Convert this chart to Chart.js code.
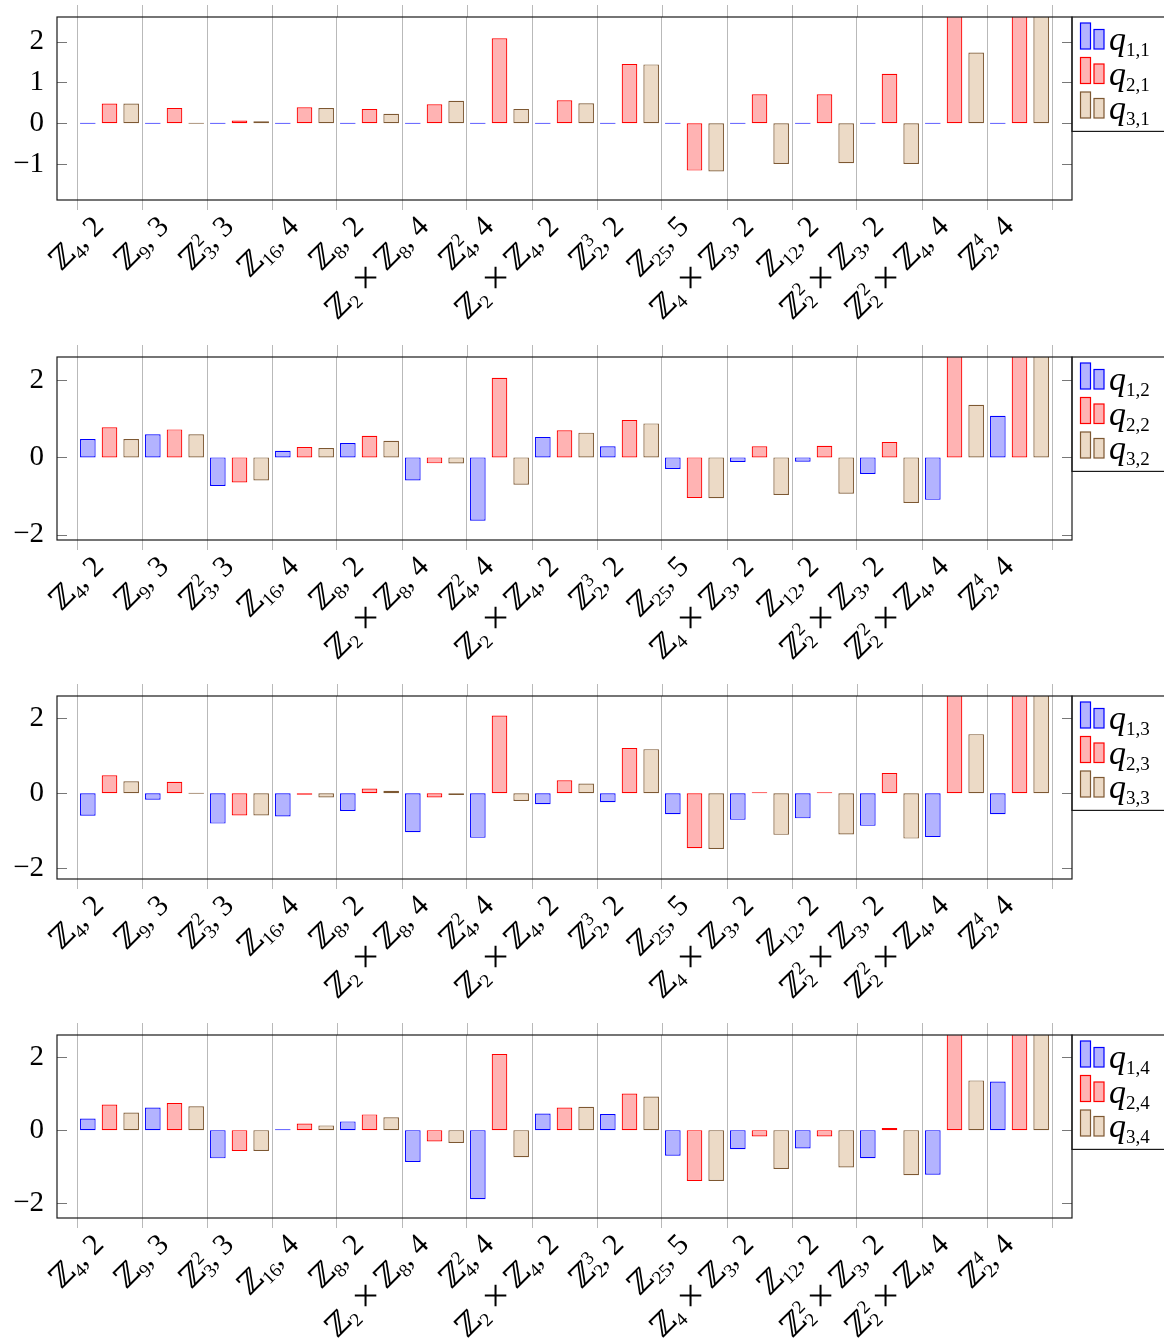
<!DOCTYPE html>
<html>
<head>
<meta charset="utf-8">
<script src="https://cdn.jsdelivr.net/npm/chart.js@4"></script>
<style>
  body { margin: 0; background: #fff; }
  #wrap { position: relative; width: 1164px; height: 1338px; }
  .panel { position: absolute; left: 0; width: 1164px; height: 340px; }
</style>
</head>
<body>
<div id="wrap"></div>
<script>
// Group labels (tick labels), _{..} = subscript, ^{..} = superscript
const groups = [
  'ℤ_{4}, 2', 'ℤ_{9}, 3', 'ℤ_{3}^{2}, 3', 'ℤ_{16}, 4', 'ℤ_{8}, 2',
  'ℤ_{2} × ℤ_{8}, 4', 'ℤ_{4}^{2}, 4', 'ℤ_{2} × ℤ_{4}, 2', 'ℤ_{2}^{3}, 2', 'ℤ_{25}, 5',
  'ℤ_{4} × ℤ_{3}, 2', 'ℤ_{12}, 2', 'ℤ_{2}^{2} × ℤ_{3}, 2', 'ℤ_{2}^{2} × ℤ_{4}, 4', 'ℤ_{2}^{4}, 4'
];
const xCenters = groups.map((g, i) => i + 0.5);
const xTicks = [0, 1, 2, 3, 4, 5, 6, 7, 8, 9, 10, 11, 12, 13, 14, 15];

// panel 1
const q1_1 = [0, 0, 0, 0, 0, 0, 0, 0, 0, 0, 0, 0, 0, 0, 0];
const q2_1 = [0.48, 0.375, 0.065, 0.39, 0.35, 0.465, 2.08, 0.56, 1.45, -1.16, 0.71, 0.71, 1.21, 3.3, 3.5];
const q3_1 = [0.48, 0, 0.05, 0.37, 0.23, 0.55, 0.35, 0.49, 1.44, -1.18, -1.0, -0.98, -1.0, 1.73, 3.2];
// panel 2
const q1_2 = [0.475, 0.6, -0.74, 0.17, 0.37, -0.6, -1.64, 0.53, 0.29, -0.3, -0.12, -0.11, -0.43, -1.1, 1.08];
const q2_2 = [0.78, 0.725, -0.65, 0.27, 0.56, -0.155, 2.06, 0.7, 0.97, -1.05, 0.29, 0.3, 0.4, 3.3, 3.5];
const q3_2 = [0.475, 0.6, -0.6, 0.24, 0.43, -0.16, -0.71, 0.64, 0.88, -1.06, -0.975, -0.94, -1.18, 1.36, 3.2];
// panel 3
const q1_3 = [-0.6, -0.17, -0.81, -0.62, -0.47, -1.04, -1.19, -0.29, -0.24, -0.56, -0.71, -0.67, -0.87, -1.17, -0.56];
const q2_3 = [0.48, 0.31, -0.59, -0.04, 0.13, -0.11, 2.08, 0.35, 1.21, -1.47, 0.01, 0.01, 0.54, 3.3, 3.5];
const q3_3 = [0.32, 0, -0.59, -0.11, 0.07, -0.045, -0.205, 0.26, 1.18, -1.49, -1.11, -1.1, -1.21, 1.58, 3.2];
// panel 4
const q1_4 = [0.32, 0.62, -0.77, 0.01, 0.24, -0.87, -1.885, 0.455, 0.44, -0.7, -0.52, -0.5, -0.765, -1.22, 1.33];
const q2_4 = [0.7, 0.74, -0.57, 0.18, 0.43, -0.31, 2.08, 0.62, 1.0, -1.39, -0.17, -0.17, 0.06, 3.3, 3.5];
const q3_4 = [0.48, 0.65, -0.57, 0.13, 0.35, -0.35, -0.74, 0.64, 0.92, -1.39, -1.06, -1.02, -1.23, 1.36, 3.2];

const series = [[q1_1, q2_1, q3_1], [q1_2, q2_2, q3_2], [q1_3, q2_3, q3_3], [q1_4, q2_4, q3_4]];
const legendLabels = [
  ['q_{1,1}', 'q_{2,1}', 'q_{3,1}'],
  ['q_{1,2}', 'q_{2,2}', 'q_{3,2}'],
  ['q_{1,3}', 'q_{2,3}', 'q_{3,3}'],
  ['q_{1,4}', 'q_{2,4}', 'q_{3,4}']
];
const yMins = [-1.88, -2.14, -2.29, -2.4];
const yMax = 2.6;
const yTicks = [[-1, 0, 1, 2], [-2, 0, 2], [-2, 0, 2], [-2, 0, 2]];

const panelTops = [0, 340, 679, 1018];
const fills = ['rgb(179,179,255)', 'rgb(255,179,179)', 'rgb(236,218,198)'];
const strokes = ['rgb(0,0,255)', 'rgb(255,0,0)', 'rgb(125,88,50)'];
const gridColor = 'rgb(185,185,185)';
const SERIF = '"Liberation Serif", "DejaVu Serif", serif';

// split "ℤ_{2}^{3}, 2" into runs
function richParts(s) {
  const out = [];
  let i = 0, buf = '';
  while (i < s.length) {
    const c = s[i];
    if ((c === '_' || c === '^') && s[i + 1] === '{') {
      if (buf) { out.push({ t: buf, k: 'n' }); buf = ''; }
      const end = s.indexOf('}', i);
      out.push({ t: s.slice(i + 2, end), k: c === '_' ? 'b' : 'p' });
      i = end + 1;
    } else {
      buf += c;
      i++;
    }
  }
  if (buf) out.push({ t: buf, k: 'n' });
  return out;
}

// draw rich text with its baseline at (0,0); right aligned if o.right
function drawRich(ctx, s, o) {
  const parts = richParts(s);
  const main = (o.italic ? 'italic ' : '') + o.size + 'px ' + SERIF;
  const op = Math.round(o.size * 1.35) + 'px ' + SERIF;
  const small = o.sub + 'px ' + SERIF;
  const items = [];
  let w = 0;
  for (let i = 0; i < parts.length; i++) {
    const p = parts[i];
    if (p.k === 'n') {
      // the times sign is set larger, like the math operator in the original
      p.t.split(/(×)/).filter(t => t).forEach(t => {
        const f = t === '×' ? op : main;
        ctx.font = f;
        items.push({ t, f, x: w, dy: t === '×' ? 3 : 0 });
        w += ctx.measureText(t).width;
      });
    } else {
      ctx.font = small;
      let adv = ctx.measureText(p.t).width;
      items.push({ t: p.t, f: small, x: w, dy: p.k === 'b' ? o.subDy : -o.supDy });
      const q = parts[i + 1];
      if (p.k === 'b' && q && q.k === 'p') {
        items.push({ t: q.t, f: small, x: w, dy: -o.supDy });
        adv = Math.max(adv, ctx.measureText(q.t).width);
        i++;
      }
      w += adv;
    }
  }
  const x0 = o.right ? -w : 0;
  ctx.textAlign = 'left';
  ctx.textBaseline = 'alphabetic';
  items.forEach(it => {
    ctx.font = it.f;
    ctx.fillText(it.t, x0 + it.x, it.dy);
  });
}

const panelPlugin = {
  id: 'qpanel',
  afterDraw(chart, args, opts) {
    const k = opts.k;
    const { ctx, chartArea: ca, scales: { x, y } } = chart;
    ctx.save();
    const line = (x1, y1, x2, y2) => { ctx.beginPath(); ctx.moveTo(x1, y1); ctx.lineTo(x2, y2); ctx.stroke(); };

    // outside ticks on the top edge
    ctx.strokeStyle = gridColor;
    ctx.lineWidth = 1;
    xTicks.forEach(v => {
      const px = Math.round(x.getPixelForValue(v)) + 0.5;
      line(px, ca.top - 12, px, ca.top);
    });

    // inside ticks on both y edges
    ctx.strokeStyle = '#777';
    y.ticks.forEach(t => {
      const py = Math.round(y.getPixelForValue(t.value)) + 0.5;
      line(ca.left, py, ca.left + 10, py);
      line(ca.right - 10, py, ca.right, py);
    });

    // axis frame
    ctx.strokeStyle = '#1a1a1a';
    ctx.lineWidth = 1.2;
    ctx.strokeRect(ca.left, ca.top, ca.right - ca.left, ca.bottom - ca.top);

    // legend box
    ctx.strokeRect(ca.right, ca.top, 100, 114.4);
    legendLabels[k].forEach((lab, j) => {
      const bottom = ca.top + 32 + 34.5 * j;
      ctx.fillStyle = fills[j];
      ctx.strokeStyle = strokes[j];
      ctx.lineWidth = 1.2;
      ctx.fillRect(1080.5, bottom - 26, 10, 26);
      ctx.strokeRect(1080.5, bottom - 26, 10, 26);
      ctx.fillRect(1094, bottom - 19.5, 10, 19.5);
      ctx.strokeRect(1094, bottom - 19.5, 10, 19.5);
      ctx.save();
      ctx.translate(1109, bottom + 1);
      ctx.fillStyle = '#000';
      drawRich(ctx, lab, { size: 34, sub: 19, subDy: 6, supDy: 11, italic: true });
      ctx.restore();
    });

    // rotated group labels
    ctx.fillStyle = '#000';
    groups.forEach((g, i) => {
      const px = x.getPixelForValue(xTicks[i]);
      ctx.save();
      ctx.translate(px + 28, ca.bottom + 28);
      ctx.rotate(-Math.PI / 4);
      drawRich(ctx, g, { size: 30, sub: 19, subDy: 6, supDy: 12, right: true });
      ctx.restore();
    });
    ctx.restore();
  }
};

const wrap = document.getElementById('wrap');

function makePanel(k) {
  const div = document.createElement('div');
  div.className = 'panel';
  div.style.top = panelTops[k] + 'px';
  const cv = document.createElement('canvas');
  cv.width = 1164;
  cv.height = 340;
  div.appendChild(cv);
  wrap.appendChild(div);

  new Chart(cv, {
    type: 'bar',
    data: {
      labels: xCenters,
      datasets: series[k].map((vals, j) => ({
        label: legendLabels[k][j],
        data: vals,
        backgroundColor: fills[j],
        borderColor: strokes[j],
        borderWidth: 1.2,
        borderSkipped: false,
        minBarLength: 1
      }))
    },
    options: {
      responsive: false,
      animation: false,
      devicePixelRatio: 1,
      categoryPercentage: 1.0,
      barPercentage: 0.72,
      layout: { padding: { top: 17, right: 92, left: 0, bottom: 0 } },
      plugins: {
        legend: { display: false },
        tooltip: { enabled: false },
        qpanel: { k }
      },
      scales: {
        x: {
          type: 'linear',
          min: -20 / 65,
          max: 15 + 20 / 65,
          offset: false,
          afterBuildTicks: s => { s.ticks = xTicks.map(v => ({ value: v })); },
          afterFit: s => { s.height = 140; s.paddingLeft = 0; s.paddingRight = 0; },
          ticks: { display: false },
          grid: { color: gridColor, lineWidth: 1, offset: false, drawTicks: true, tickLength: 10 },
          border: { display: false }
        },
        y: {
          min: yMins[k],
          max: yMax,
          afterBuildTicks: s => { s.ticks = yTicks[k].map(v => ({ value: v })); },
          afterFit: s => { s.width = 57; s.paddingTop = 0; s.paddingBottom = 0; },
          ticks: {
            color: '#000',
            padding: 13,
            font: { family: SERIF, size: 29 },
            callback: v => (v < 0 ? '\u2212' + Math.abs(v) : String(v))
          },
          grid: { display: false, drawTicks: false },
          border: { display: false }
        }
      }
    },
    plugins: [panelPlugin]
  });
}

[0, 1, 2, 3].forEach(makePanel);
</script>
</body>
</html>
